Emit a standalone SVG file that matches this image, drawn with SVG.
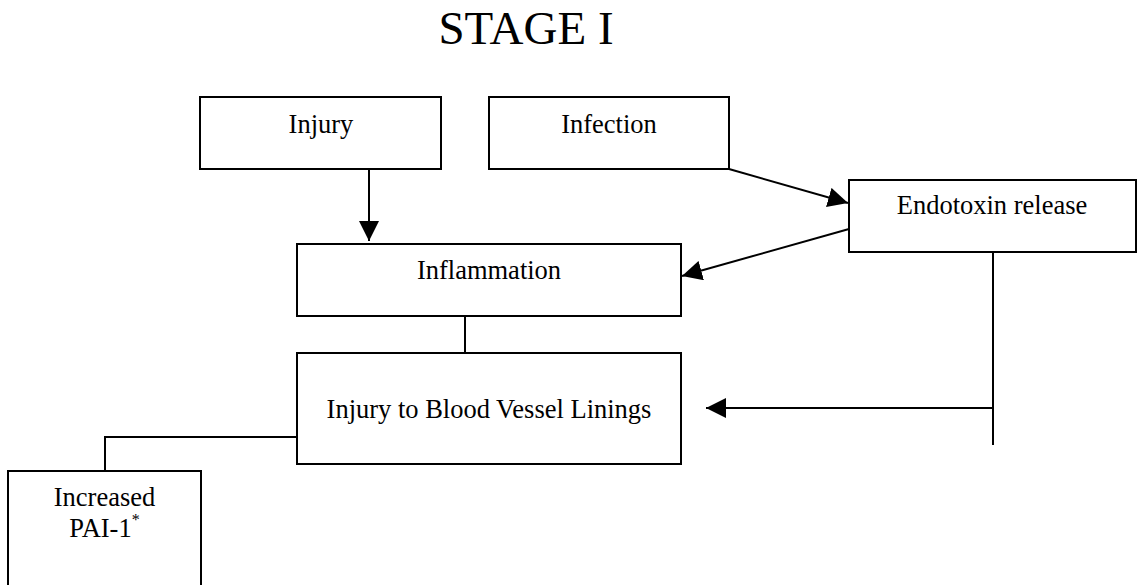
<svg xmlns="http://www.w3.org/2000/svg" width="1139" height="585" viewBox="0 0 1139 585">
<style>
.box{fill:#fff;stroke:#000;stroke-width:2}
.t{font-family:"Liberation Serif","Times New Roman",serif;font-size:26.5px;fill:#000;text-anchor:middle}
.c{fill:none;stroke:#000;stroke-width:2}
</style>
<defs>
<marker id="ah" markerUnits="userSpaceOnUse" markerWidth="20" markerHeight="20" refX="20" refY="10" orient="auto">
<path d="M0,0 L20,10 L0,20 z" fill="#000"/>
</marker>
</defs>
<rect width="1139" height="585" fill="#fff"/>
<text x="526" y="44" style="font-family:'Liberation Serif','Times New Roman',serif;font-size:47px;text-anchor:middle">STAGE I</text>
<g id="connectors">
<line class="c" x1="369" y1="169" x2="369" y2="241" marker-end="url(#ah)"/>
<line class="c" x1="729" y1="169" x2="848" y2="203" marker-end="url(#ah)"/>
<line class="c" x1="849" y1="229" x2="682" y2="276" marker-end="url(#ah)"/>
<line class="c" x1="465" y1="316" x2="465" y2="353"/>
<line class="c" x1="993" y1="252" x2="993" y2="445"/>
<line class="c" x1="993" y1="408" x2="706" y2="408" marker-end="url(#ah)"/>
<polyline class="c" points="297,437 105,437 105,471"/>
</g>
<g id="injury">
<rect class="box" x="200" y="97" width="241" height="72"/>
<text class="t" x="321" y="133">Injury</text>
</g>
<g id="infection">
<rect class="box" x="489" y="97" width="240" height="72"/>
<text class="t" x="609" y="133">Infection</text>
</g>
<g id="endotoxin">
<rect class="box" x="849" y="180" width="287" height="72"/>
<text class="t" x="992" y="214">Endotoxin release</text>
</g>
<g id="inflammation">
<rect class="box" x="297" y="244" width="384" height="72"/>
<text class="t" x="489" y="279">Inflammation</text>
</g>
<g id="vessel">
<rect class="box" x="297" y="353" width="384" height="111"/>
<text class="t" x="489" y="418">Injury to Blood Vessel Linings</text>
</g>
<g id="pai">
<rect class="box" x="8" y="471" width="193" height="125"/>
<text class="t" x="104.5" y="506">Increased</text>
<text class="t" x="104.5" y="537">PAI-1<tspan font-size="16" dy="-12">*</tspan></text>
</g>
</svg>
